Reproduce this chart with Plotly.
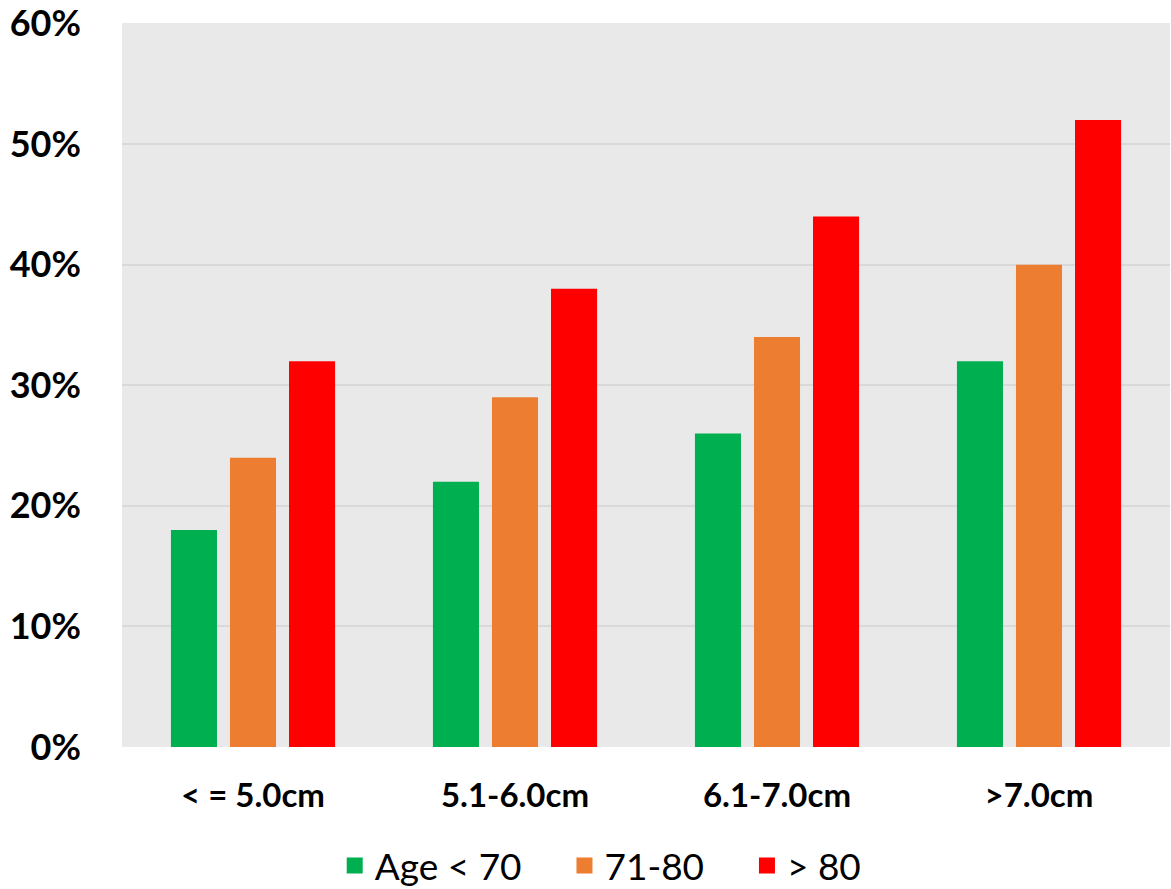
import plotly.graph_objects as go

categories = ["< = 5.0cm", "5.1-6.0cm", "6.1-7.0cm", ">7.0cm"]
series_names = ["Age < 70", "71-80", "> 80"]
age_lt70 = [18, 22, 26, 32]
age_71_80 = [24, 29, 34, 40]
age_gt80 = [32, 38, 44, 52]
colors = ["#00B050", "#ED7D31", "#FF0000"]
y_ticks = [0, 10, 20, 30, 40, 50, 60]

FONT = "Lato, 'Open Sans', sans-serif"
NBSP = "\u00a0"

fig = go.Figure()
for name, vals, col in zip(series_names, [age_lt70, age_71_80, age_gt80], colors):
    fig.add_trace(go.Bar(
        x=categories, y=vals, name=name,
        marker=dict(color=col, line=dict(width=0)),
        hoverinfo="x+y+name", showlegend=False, legendgroup=name,
    ))
# legend entries with larger square swatches
for i, (name, col) in enumerate(zip(series_names, colors)):
    label = name + (NBSP * 4 if i < len(series_names) - 1 else "")
    fig.add_trace(go.Scatter(
        x=[None], y=[None], mode="markers", name=label, legendgroup=name,
        marker=dict(symbol="square", size=23, color=col),
        showlegend=True, hoverinfo="skip",
    ))

fig.update_layout(
    width=1171, height=889,
    margin=dict(l=122, r=1, t=23, b=142, autoexpand=False),
    paper_bgcolor="white",
    plot_bgcolor="#E9E9E9",
    barmode="group",
    bargap=0.324,
    bargroupgap=0.22,
    font=dict(family=FONT, color="black"),
    showlegend=True,
    legend=dict(
        orientation="h",
        xref="container", yref="container",
        x=0.513, xanchor="center",
        y=0.026, yanchor="middle",
        font=dict(size=37, family=FONT, color="black"),
        itemwidth=30,
        itemsizing="trace",
        traceorder="normal",
    ),
)
fig.update_xaxes(
    showgrid=False, zeroline=False, showline=False,
    tickfont=dict(size=33, family=FONT, color="black", weight="bold"),
    ticks="", ticklabelstandoff=26, automargin=False,
)
fig.update_yaxes(
    range=[0, 60.05], tickvals=y_ticks, ticktext=[f"{v}%" for v in y_ticks],
    showgrid=True, gridcolor="#D9D9D9", gridwidth=2,
    zeroline=False, showline=False, ticks="",
    tickfont=dict(size=36, family=FONT, color="black", weight="bold"),
    ticklabelstandoff=40, ticklabeloverflow="allow", automargin=False,
)

fig.write_html("out.html")
